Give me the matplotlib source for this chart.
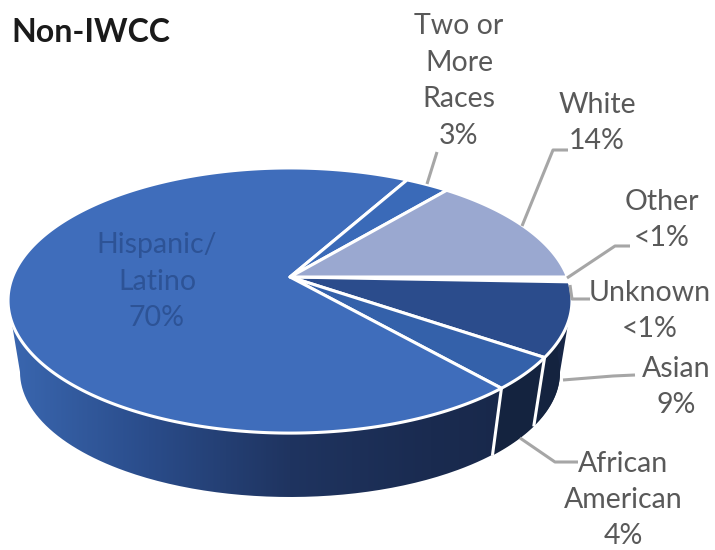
import numpy as np
import matplotlib
matplotlib.use('Agg')
import matplotlib.pyplot as plt
from matplotlib.colors import LinearSegmentedColormap
from matplotlib.patches import Polygon, PathPatch
from matplotlib.path import Path

plt.rcParams['font.family'] = ['Lato', 'DejaVu Sans']

#Slices, clockwise from the east side of the disk
groups = ['Other', 'Unknown', 'Asian', 'African\nAmerican', 'Hispanic/\nLatino',
          'Two or\nMore\nRaces', 'White']
shares = [0.3, 0.3, 9, 4, 70, 3, 14]
share_labels = ['<1%', '<1%', '9%', '4%', '70%', '3%', '14%']

top_colors = ['#C9D3EA', '#2B4C8C', '#2B4C8C', '#3461AA', '#3F6DBB', '#3A6AB8', '#9AA8D0']
wall_color = '#14233F'
text_color = '#595959'
leader_color = '#A6A6A6'

#Label anchors and leader lines in figure pixels
label_xy = [(662, 220), (650, 311), (676, 387), (623, 500), (157, 282), (459, 81), (597, 123)]
leaders = [[(567, 278), (615, 246), (630, 246)],
           [(570, 285), (572, 299), (590, 299)],
           [(563, 380), (613, 376), (635, 375)],
           [(520, 438), (555, 462), (578, 462)],
           None,
           [(427, 184), (437, 152)],
           [(522, 226), (553, 150), (568, 150)]]

#Perspective disk: apex position and tilt
APEX_X, APEX_Y = 290, 277
SCALE_X, SCALE_Y, TILT = 277.5, 128.4, 0.1774
TOP_CY, TOP_RX, TOP_RY = 300, 282, 132
BOT_CY, BOT_RX, BOT_RY = 372, 270, 125


def rim_point(angle):
    '''Project an angle on the unit disk (array, radians) to figure pixels.'''
    u, v = np.cos(angle), np.sin(angle)
    w = 1 + TILT * v
    return APEX_X + SCALE_X * u / w, APEX_Y - SCALE_Y * v / w


def lower_rim(x, y):
    '''Move a point of the top rim down to the bottom edge of the wall.'''
    return (APEX_X + (x - APEX_X) * BOT_RX / TOP_RX,
            BOT_CY + (y - TOP_CY) * BOT_RY / TOP_RY)


fig = plt.figure(figsize=(7.15, 5.5), dpi=100)
ax = fig.add_axes([0, 0, 1, 1])

#Slice edges in radians, going clockwise from zero
edges = -np.cumsum([0] + shares) / sum(shares) * 2 * np.pi

#Wall of the disk: gradient over the whole outline, darker slices on top
lower = np.linspace(np.pi, 2 * np.pi, 200)
bottom_edge = list(zip(APEX_X + BOT_RX * np.cos(lower), BOT_CY - BOT_RY * np.sin(lower)))
top_edge = list(zip(APEX_X + TOP_RX * np.cos(lower[::-1]), TOP_CY - TOP_RY * np.sin(lower[::-1])))
outline = [(APEX_X - TOP_RX, TOP_CY)] + bottom_edge + [(APEX_X + TOP_RX, TOP_CY)] + top_edge

wall_cmap = LinearSegmentedColormap.from_list(
    'wall', ['#3A67B0', '#2A4C8A', '#1F3460', '#1A2B50', '#172646'])
gradient = np.linspace(0, 1, 256).reshape(1, -1)
image = ax.imshow(gradient, extent=(8, 572, 550, 0), cmap=wall_cmap, aspect='auto', zorder=1)
ax.set_xlim(0, 715)
ax.set_ylim(550, 0)
ax.axis('off')
clip = PathPatch(Path(outline), transform=ax.transData, facecolor='none', edgecolor='none')
ax.add_patch(clip)
image.set_clip_path(clip)

#Asian and African American walls, with white dividers between the slices
for i in (2, 3):
    arc = np.linspace(edges[i], edges[i + 1], 40)
    x, y = rim_point(arc)
    bx, by = lower_rim(x, y)
    ax.add_patch(Polygon(np.column_stack([np.r_[x, bx[::-1]], np.r_[y, by[::-1]]]),
                         facecolor=wall_color, edgecolor='none', zorder=2))
for i in (3, 4):
    x, y = rim_point(edges[i])
    bx, by = lower_rim(x, y)
    ax.plot([x, bx], [y, by], color='white', lw=2.2, zorder=3, solid_capstyle='butt')

#Top face of each slice
for i in range(len(shares)):
    arc = np.linspace(edges[i], edges[i + 1], max(int(abs(edges[i + 1] - edges[i]) * 80), 4))
    x, y = rim_point(arc)
    pts = np.column_stack([np.r_[APEX_X, x], np.r_[APEX_Y, y]])
    ax.add_patch(Polygon(pts, closed=True, facecolor=top_colors[i], edgecolor='white',
                         lw=2.2, joinstyle='round', zorder=4))

#Leader lines
for line in leaders:
    if line is not None:
        xs, ys = zip(*line)
        ax.plot(xs, ys, color=leader_color, lw=2.2, zorder=5, solid_capstyle='butt')

#Labels: category name over the share
for group, share, xy in zip(groups, share_labels, label_xy):
    color = '#2D5396' if group.startswith('Hispanic') else text_color
    ax.text(xy[0], xy[1], group + '\n' + share, ha='center', va='center', fontsize=20.5,
            color=color, linespacing=1.5, zorder=6)

ax.text(11, 32, 'Non-IWCC', ha='left', va='center', fontsize=23, fontweight='bold',
        color='#1A1A1A', zorder=6)

fig.savefig('out.png', dpi=100)
